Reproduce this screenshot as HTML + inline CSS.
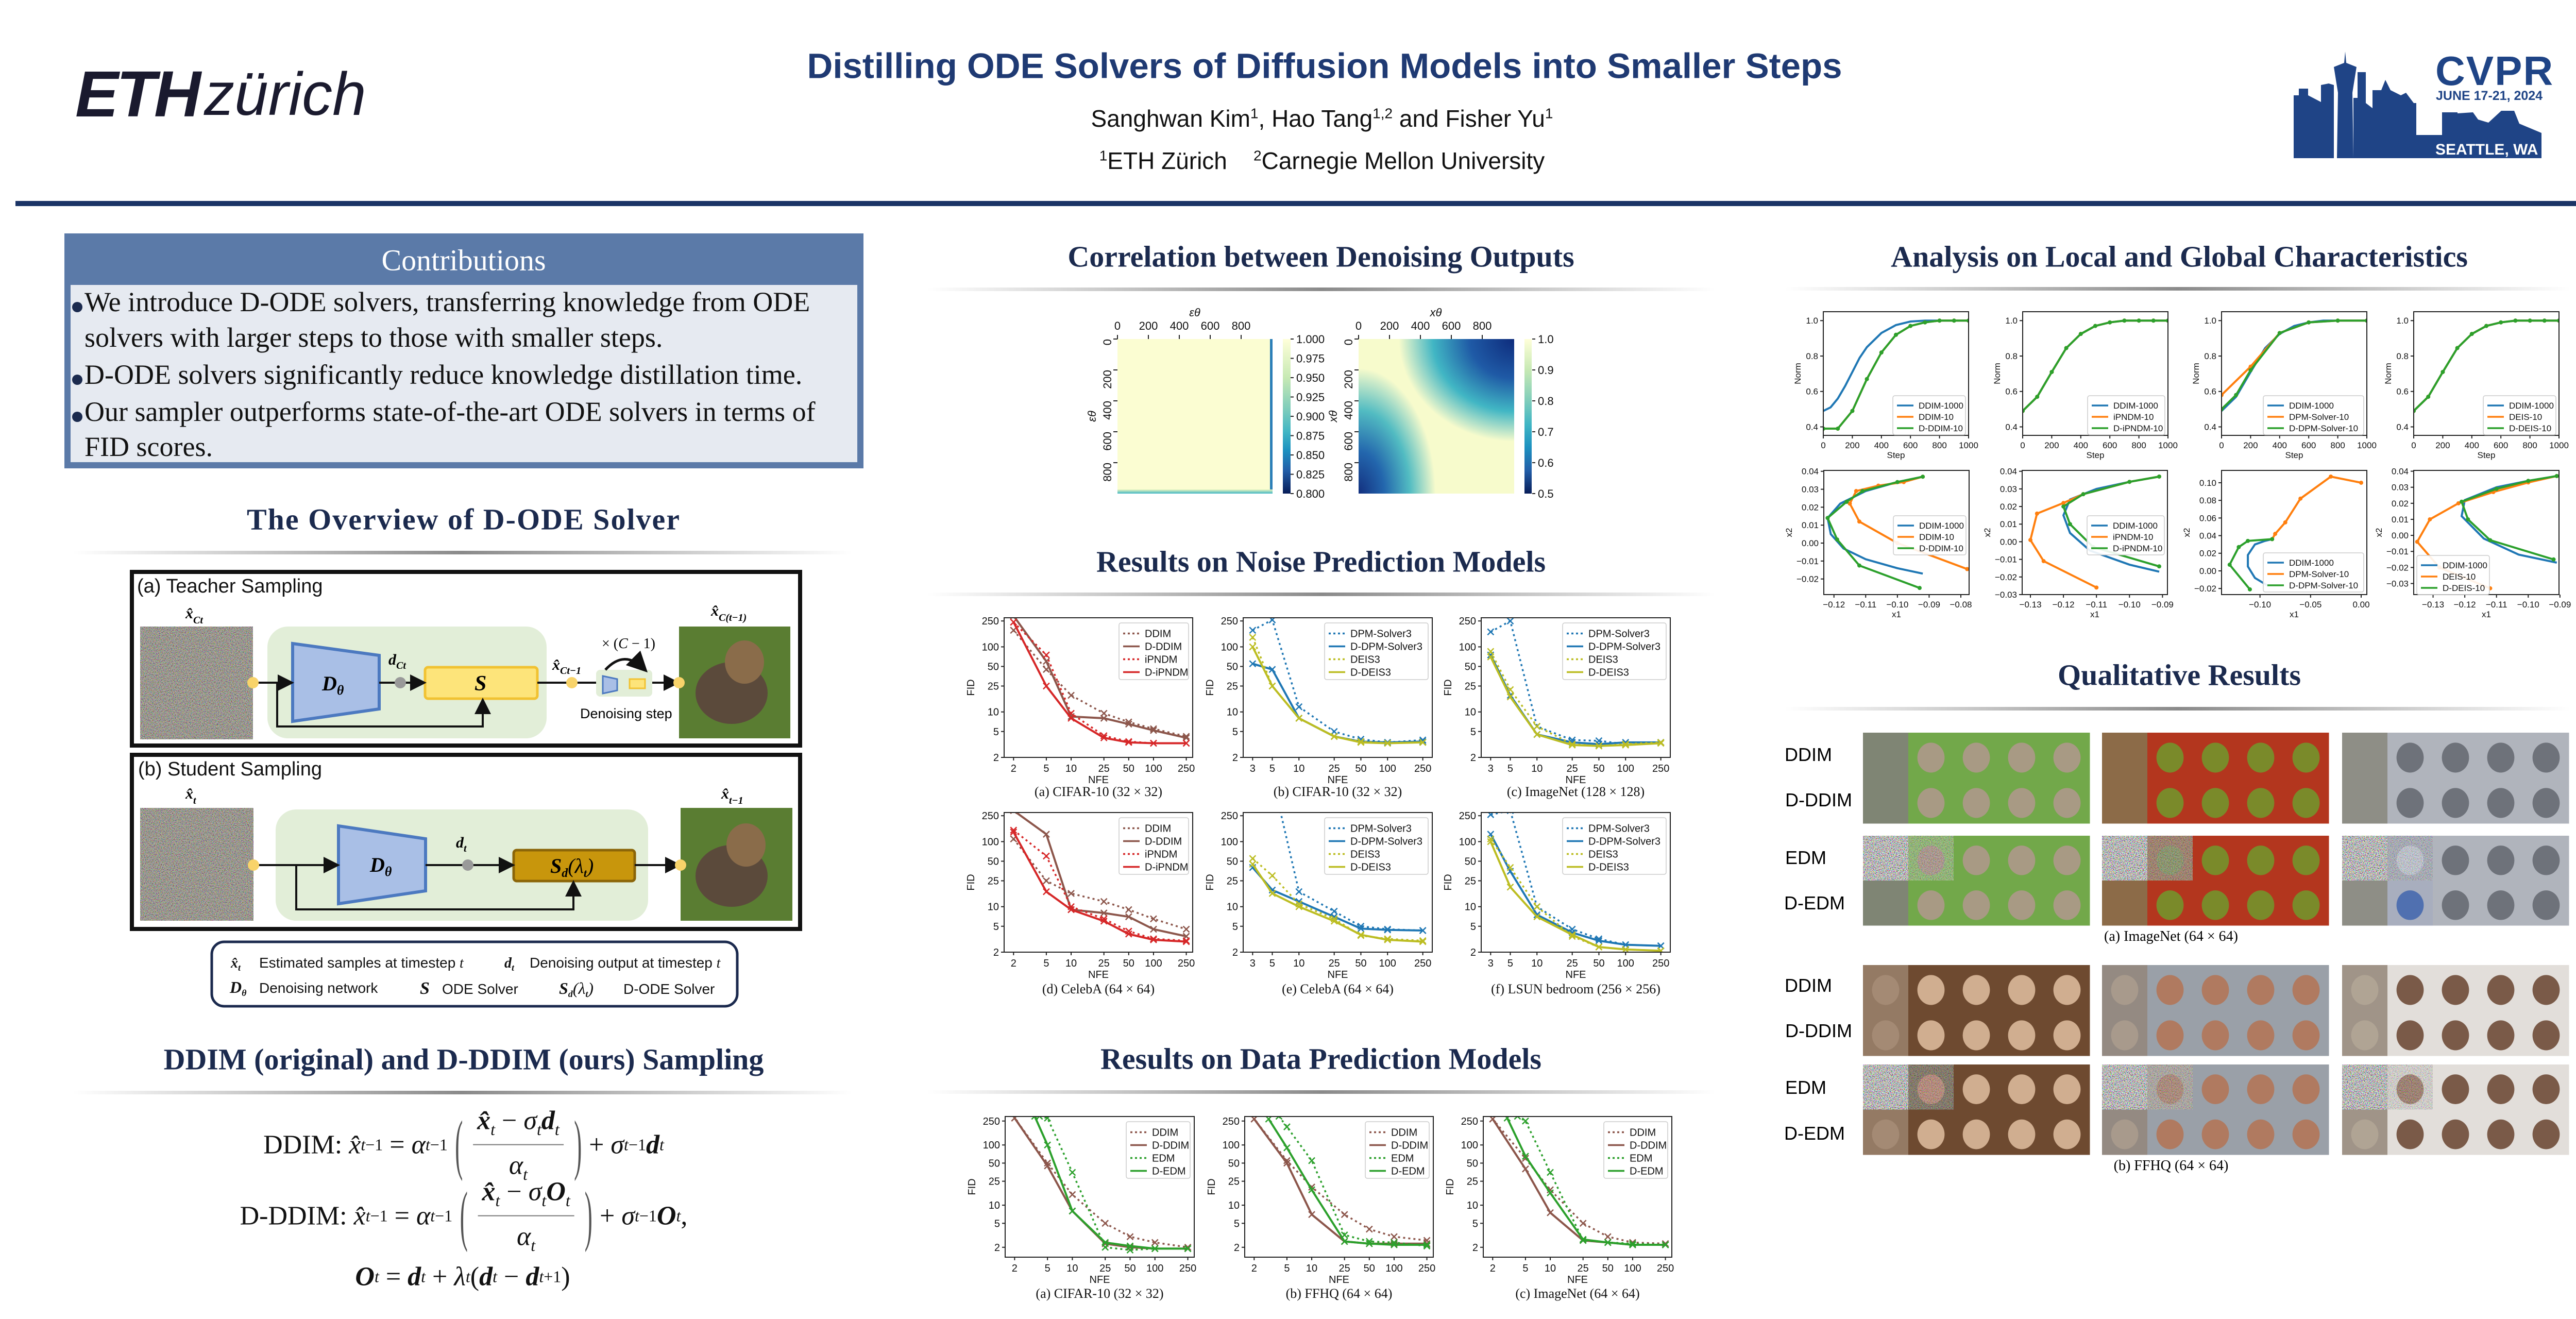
<!DOCTYPE html>
<html><head><meta charset="utf-8">
<style>
*{margin:0;padding:0;box-sizing:border-box}
body{width:5120px;height:2560px;background:#fff;position:relative;overflow:hidden;font-family:"Liberation Sans",sans-serif}
.a{position:absolute;white-space:nowrap}
.c{transform:translate(-50%,-50%)}
.h{font-family:"Liberation Serif",serif;font-weight:bold;font-size:58px;color:#1b2a4e}
.ln{position:absolute;height:7px;background:linear-gradient(to right,rgba(150,150,150,0),#8a8a8a 50%,rgba(150,150,150,0))}
.ser{font-family:"Liberation Serif",serif}
.cb{font-family:"Liberation Serif",serif;font-size:54px;color:#111;position:absolute;white-space:nowrap}
.bul{display:inline-block;width:20px;height:20px;border-radius:50%;background:#1b2a4e;margin-right:4px;vertical-align:-2px}
.eq{font-family:"Liberation Serif",serif;font-size:52px;color:#111;position:absolute;white-space:nowrap;display:flex;align-items:center;transform:translate(-50%,-50%)}
.eq i{font-style:italic}
.fr{display:inline-flex;flex-direction:column;align-items:center;margin:0 6px}
.fr .n{padding:0 8px 10px;border-bottom:2px solid #777}
.fr .d{padding-top:10px}
.par{font-size:130px;font-weight:100;color:#555;line-height:1;transform:scaleX(.35)}
sub{font-size:32px}
.lg{font-size:28px;color:#111}
</style></head><body>

<!-- header -->
<div class="a" style="left:146px;top:120px;font-size:126px;line-height:1;font-weight:bold;font-style:italic;color:#1a1a2e;letter-spacing:-4px">ETH</div>
<div class="a" style="left:396px;top:124px;font-size:118px;line-height:1;font-style:italic;color:#1a1a2e">zürich</div>
<div class="a c" style="left:2571px;top:128px;font-size:69px;font-weight:bold;color:#1f3a73">Distilling ODE Solvers of Diffusion Models into Smaller Steps</div>
<div class="a c" style="left:2566px;top:230px;font-size:46px;color:#111">Sanghwan Kim<sup style="font-size:28px">1</sup>, Hao Tang<sup style="font-size:28px">1,2</sup> and Fisher Yu<sup style="font-size:28px">1</sup></div>
<div class="a c" style="left:2566px;top:312px;font-size:46px;color:#111"><sup style="font-size:28px">1</sup>ETH Zürich &nbsp;&nbsp; <sup style="font-size:28px">2</sup>Carnegie Mellon University</div>
<div class="a" style="left:4727px;top:98px;font-size:80px;font-weight:bold;color:#1f4486;line-height:1;letter-spacing:2px">CVPR</div>
<div class="a" style="left:4728px;top:174px;font-size:25px;font-weight:bold;color:#1f4486;line-height:1">JUNE 17-21, 2024</div>
<div style="position:absolute;left:30px;top:390px;width:5080px;height:10px;background:#1b3466"></div>

<!-- left column -->
<div style="position:absolute;left:125px;top:453px;width:1551px;height:456px;background:#5b7aa8"></div>
<div style="position:absolute;left:137px;top:553px;width:1527px;height:344px;background:#e6eaf1"></div>
<div class="a c ser" style="left:900px;top:505px;font-size:58px;color:#fff">Contributions</div>
<div class="cb" style="left:140px;top:555px"><span class="bul"></span>We introduce D-ODE solvers, transferring knowledge from ODE</div>
<div class="cb" style="left:164px;top:624px">solvers with larger steps to those with smaller steps.</div>
<div class="cb" style="left:140px;top:696px"><span class="bul"></span>D-ODE solvers significantly reduce knowledge distillation time.</div>
<div class="cb" style="left:140px;top:768px"><span class="bul"></span>Our sampler outperforms state-of-the-art ODE solvers in terms of</div>
<div class="cb" style="left:164px;top:836px">FID scores.</div>

<div class="a c h" style="left:900px;top:1008px;letter-spacing:2px">The Overview of D-ODE Solver</div>
<div class="ln" style="left:141px;top:1069px;width:1513px"></div>

<div class="a c h" style="left:900px;top:2056px">DDIM (original) and D-DDIM (ours) Sampling</div>
<div class="ln" style="left:141px;top:2117px;width:1513px"></div>

<div class="eq" style="left:900px;top:2222px">DDIM:&nbsp; <i>x̂</i><sub><i>t</i>−1</sub>&nbsp;=&nbsp;<i>α</i><sub><i>t</i>−1</sub><span class="par">(</span><span class="fr"><span class="n"><b><i>x̂</i></b><sub><i>t</i></sub> − <i>σ</i><sub><i>t</i></sub><b><i>d</i></b><sub><i>t</i></sub></span><span class="d"><i>α</i><sub><i>t</i></sub></span></span><span class="par">)</span>+&nbsp;<i>σ</i><sub><i>t</i>−1</sub><b><i>d</i></b><sub><i>t</i></sub></div>
<div class="eq" style="left:900px;top:2360px">D-DDIM:&nbsp; <i>x̂</i><sub><i>t</i>−1</sub>&nbsp;=&nbsp;<i>α</i><sub><i>t</i>−1</sub><span class="par">(</span><span class="fr"><span class="n"><b><i>x̂</i></b><sub><i>t</i></sub> − <i>σ</i><sub><i>t</i></sub><b><i>O</i></b><sub><i>t</i></sub></span><span class="d"><i>α</i><sub><i>t</i></sub></span></span><span class="par">)</span>+&nbsp;<i>σ</i><sub><i>t</i>−1</sub><b><i>O</i></b><sub><i>t</i></sub>,</div>
<div class="eq" style="left:898px;top:2478px"><b><i>O</i></b><sub><i>t</i></sub>&nbsp;=&nbsp;<b><i>d</i></b><sub><i>t</i></sub>&nbsp;+&nbsp;<i>λ</i><sub><i>t</i></sub>(<b><i>d</i></b><sub><i>t</i></sub>&nbsp;−&nbsp;<b><i>d</i></b><sub><i>t</i>+1</sub>)</div>

<!-- middle column -->
<div class="a c h" style="left:2564px;top:498px">Correlation between Denoising Outputs</div>
<div class="ln" style="left:1800px;top:558px;width:1530px"></div>
<div class="a c h" style="left:2564px;top:1090px">Results on Noise Prediction Models</div>
<div class="ln" style="left:1800px;top:1150px;width:1530px"></div>
<div class="a c h" style="left:2564px;top:2055px">Results on Data Prediction Models</div>
<div class="ln" style="left:1800px;top:2116px;width:1530px"></div>

<!-- heatmaps -->
<div style="position:absolute;left:2169px;top:658px;width:301px;height:300px;background:#fbfdd2"></div>
<div style="position:absolute;left:2465px;top:658px;width:5px;height:300px;background:#2c7fb8"></div>
<div style="position:absolute;left:2169px;top:950px;width:301px;height:8px;background:linear-gradient(#e8f5bf,#41b6c4)"></div>
<div style="position:absolute;left:2490px;top:658px;width:15px;height:300px;background:linear-gradient(#ffffd9,#c7e9b4 25%,#7fcdbb 45%,#41b6c4 60%,#1d91c0 72%,#225ea8 85%,#081d58)"></div>
<div style="position:absolute;left:2637px;top:658px;width:302px;height:300px;background:radial-gradient(ellipse 95% 85% at 100% 0%,#0e2c7c 0%,#1f5aa6 30%,#41b6c4 55%,rgba(237,248,190,0) 78%),radial-gradient(ellipse 55% 90% at 0% 100%,#13307f 0%,#2366ad 30%,#52bcc2 60%,rgba(237,248,190,0) 90%),#f7fbcc"></div>
<div style="position:absolute;left:2959px;top:658px;width:14px;height:300px;background:linear-gradient(#ffffd9,#c7e9b4 20%,#7fcdbb 40%,#41b6c4 55%,#1d91c0 70%,#225ea8 85%,#081d58)"></div>

<!-- right column -->
<div class="a c h" style="left:4230px;top:498px">Analysis on Local and Global Characteristics</div>
<div class="ln" style="left:3465px;top:557px;width:1524px"></div>
<div class="a c h" style="left:4230px;top:1310px">Qualitative Results</div>
<div class="ln" style="left:3465px;top:1372px;width:1524px"></div>

<div class="a c" style="left:3510px;top:1465px;font-size:36px">DDIM</div>
<div class="a c" style="left:3530px;top:1553px;font-size:36px">D-DDIM</div>
<div class="a c" style="left:3505px;top:1665px;font-size:36px">EDM</div>
<div class="a c" style="left:3522px;top:1753px;font-size:36px">D-EDM</div>
<div class="a c" style="left:3510px;top:1913px;font-size:36px">DDIM</div>
<div class="a c" style="left:3530px;top:2001px;font-size:36px">D-DDIM</div>
<div class="a c" style="left:3505px;top:2111px;font-size:36px">EDM</div>
<div class="a c" style="left:3522px;top:2200px;font-size:36px">D-EDM</div>
<div class="a c ser" style="left:4214px;top:1818px;font-size:28px">(a) ImageNet (64 × 64)</div>
<div class="a c ser" style="left:4214px;top:2263px;font-size:28px">(b) FFHQ (64 × 64)</div>

<svg id="sv" width="5120" height="2560" style="position:absolute;left:0;top:0" xmlns="http://www.w3.org/2000/svg">
<defs>
<filter id="nz" x="0" y="0" width="100%" height="100%"><feTurbulence type="fractalNoise" baseFrequency="0.55" numOctaves="2" seed="4"/><feColorMatrix type="matrix" values="2 0 0 0 -0.5  0 2 0 0 -0.5  0 0 2 0 -0.5  0 0 0 0 1"/></filter>
<marker id="ar" markerWidth="8" markerHeight="8" refX="6" refY="4" orient="auto"><path d="M0,0 L8,4 L0,8 z" fill="#111"/></marker>
</defs>
<!-- CVPR skyline -->
<g fill="#1f4486">
<path d="M4452,307 L4452,185 L4462,185 L4462,172 L4480,172 L4480,185 L4505,198 L4505,165 L4520,162 L4530,165 L4530,307 Z"/>
<path d="M4536,307 L4538,180 L4530,130 L4550,122 L4552,100 L4554,122 L4574,130 L4566,180 L4568,307 Z"/>
<path d="M4568,307 L4568,190 L4576,190 L4576,140 L4592,140 L4592,200 L4605,210 L4605,175 L4622,175 L4630,155 L4640,175 L4660,185 L4670,180 L4685,200 L4690,200 L4690,307 Z"/>
<path d="M4690,307 L4690,262 L4740,262 L4740,218 L4770,218 L4770,220 L4800,218 L4810,232 L4830,238 L4855,215 L4880,215 L4890,240 L4933,258 L4933,307 Z"/>
</g>
<text x="4727" y="300" font-family="Liberation Sans" font-weight="bold" font-size="30" fill="#fff">SEATTLE, WA</text>

<!-- teacher diagram -->
<rect x="256" y="1110" width="1297" height="337" fill="#fff" stroke="#111" stroke-width="8"/>
<text x="266" y="1150" font-family="Liberation Sans" font-size="38" fill="#111">(a) Teacher Sampling</text>
<rect x="272" y="1216" width="219" height="219" fill="#77705f"/>
<rect x="272" y="1216" width="219" height="219" filter="url(#nz)" opacity="0.55"/>
<rect x="519" y="1216" width="542" height="217" rx="40" fill="#e2eed8"/>
<polygon points="568,1249 736,1272 736,1376 568,1400" fill="#a9bfe6" stroke="#4c79c0" stroke-width="6"/>
<text x="625" y="1340" font-family="Liberation Serif" font-style="italic" font-weight="bold" font-size="40">D<tspan font-size="26" dy="8">θ</tspan></text>
<rect x="825" y="1295" width="218" height="61" rx="6" fill="#fde47a" stroke="#f1c232" stroke-width="5"/>
<text x="921" y="1340" font-family="Liberation Serif" font-style="italic" font-weight="bold" font-size="42">S</text>
<path d="M491,1325 H563" stroke="#111" stroke-width="4" marker-end="url(#ar)"/>
<path d="M538,1325 V1410 H937 V1362" stroke="#111" stroke-width="4" fill="none" marker-end="url(#ar)"/>
<path d="M736,1325 H820" stroke="#111" stroke-width="4" marker-end="url(#ar)"/>
<circle cx="777" cy="1325" r="11" fill="#999"/>
<circle cx="491" cy="1325" r="11" fill="#f8d36a"/>
<path d="M1043,1325 H1157" stroke="#111" stroke-width="4"/>
<circle cx="1110" cy="1325" r="11" fill="#f8d36a"/>
<rect x="1157" y="1300" width="109" height="52" rx="8" fill="#e2eed8"/>
<polygon points="1170,1312 1198,1318 1198,1340 1170,1346" fill="#a9bfe6" stroke="#4c79c0" stroke-width="3"/>
<rect x="1222" y="1318" width="30" height="18" fill="#fde47a" stroke="#f1c232" stroke-width="3"/>
<path d="M1175,1300 Q1212,1260 1250,1298" stroke="#111" stroke-width="5" fill="none" marker-end="url(#ar)"/>
<text x="1168" y="1258" font-family="Liberation Serif" font-size="28">× (<tspan font-style="italic">C</tspan> − 1)</text>
<text x="1126" y="1394" font-family="Liberation Sans" font-size="27">Denoising step</text>
<path d="M1266,1325 H1312" stroke="#111" stroke-width="4" marker-end="url(#ar)"/>
<rect x="1318" y="1216" width="216" height="217" fill="#5a7d32"/>
<ellipse cx="1420" cy="1345" rx="70" ry="60" fill="#5b4a3b"/>
<ellipse cx="1445" cy="1285" rx="38" ry="42" fill="#8a6c4a"/>
<circle cx="1318" cy="1325" r="11" fill="#f8d36a"/>
<text x="360" y="1200" font-family="Liberation Serif" font-style="italic" font-weight="bold" font-size="30">x̂<tspan font-size="20" dy="10">Ct</tspan></text>
<text x="754" y="1290" font-family="Liberation Serif" font-style="italic" font-weight="bold" font-size="30">d<tspan font-size="20" dy="8">Ct</tspan></text>
<text x="1072" y="1300" font-family="Liberation Serif" font-style="italic" font-weight="bold" font-size="30">x̂<tspan font-size="20" dy="8">Ct−1</tspan></text>
<text x="1380" y="1195" font-family="Liberation Serif" font-style="italic" font-weight="bold" font-size="30">x̂<tspan font-size="20" dy="10">C(t−1)</tspan></text>

<!-- student diagram -->
<rect x="256" y="1465" width="1297" height="338" fill="#fff" stroke="#111" stroke-width="8"/>
<text x="268" y="1505" font-family="Liberation Sans" font-size="38" fill="#111">(b) Student Sampling</text>
<rect x="272" y="1568" width="220" height="219" fill="#77705f"/>
<rect x="272" y="1568" width="220" height="219" filter="url(#nz)" opacity="0.55"/>
<rect x="535" y="1571" width="723" height="216" rx="40" fill="#e2eed8"/>
<polygon points="657,1603 826,1628 826,1729 657,1754" fill="#a9bfe6" stroke="#4c79c0" stroke-width="6"/>
<text x="718" y="1692" font-family="Liberation Serif" font-style="italic" font-weight="bold" font-size="40">D<tspan font-size="26" dy="8">θ</tspan></text>
<rect x="997" y="1650" width="235" height="60" rx="6" fill="#c8960c" stroke="#8b6508" stroke-width="5"/>
<text x="1068" y="1694" font-family="Liberation Serif" font-style="italic" font-weight="bold" font-size="40">S<tspan font-size="24" dy="8">d</tspan><tspan dy="-8" font-weight="normal">(λ</tspan><tspan font-size="22" dy="8">t</tspan><tspan dy="-8" font-weight="normal">)</tspan></text>
<path d="M492,1679 H652" stroke="#111" stroke-width="4" marker-end="url(#ar)"/>
<path d="M575,1679 V1765 H1113 V1716" stroke="#111" stroke-width="4" fill="none" marker-end="url(#ar)"/>
<path d="M826,1679 H992" stroke="#111" stroke-width="4" marker-end="url(#ar)"/>
<circle cx="908" cy="1679" r="11" fill="#999"/>
<circle cx="492" cy="1679" r="11" fill="#f8d36a"/>
<path d="M1232,1679 H1315" stroke="#111" stroke-width="4" marker-end="url(#ar)"/>
<rect x="1321" y="1568" width="217" height="219" fill="#5a7d32"/>
<ellipse cx="1420" cy="1700" rx="70" ry="60" fill="#5b4a3b"/>
<ellipse cx="1448" cy="1640" rx="38" ry="42" fill="#8a6c4a"/>
<circle cx="1321" cy="1679" r="11" fill="#f8d36a"/>
<text x="360" y="1550" font-family="Liberation Serif" font-style="italic" font-weight="bold" font-size="30">x̂<tspan font-size="20" dy="10">t</tspan></text>
<text x="885" y="1645" font-family="Liberation Serif" font-style="italic" font-weight="bold" font-size="30">d<tspan font-size="20" dy="8">t</tspan></text>
<text x="1400" y="1550" font-family="Liberation Serif" font-style="italic" font-weight="bold" font-size="30">x̂<tspan font-size="20" dy="10">t−1</tspan></text>

<!-- legend box -->
<rect x="411" y="1828" width="1020" height="125" rx="24" fill="#fff" stroke="#1b2a4e" stroke-width="5"/>
<g font-family="Liberation Sans" font-size="28" fill="#111">
<text x="448" y="1878" font-family="Liberation Serif" font-style="italic" font-weight="bold">x̂<tspan font-size="18" dy="6">t</tspan></text>
<text x="503" y="1878">Estimated samples at timestep <tspan font-family="Liberation Serif" font-style="italic">t</tspan></text>
<text x="979" y="1878" font-family="Liberation Serif" font-style="italic" font-weight="bold">d<tspan font-size="18" dy="6">t</tspan></text>
<text x="1028" y="1878">Denoising output at timestep <tspan font-family="Liberation Serif" font-style="italic">t</tspan></text>
<text x="446" y="1927" font-family="Liberation Serif" font-style="italic" font-weight="bold" font-size="32">D<tspan font-size="18" dy="6">θ</tspan></text>
<text x="503" y="1927">Denoising network</text>
<text x="815" y="1929" font-family="Liberation Serif" font-style="italic" font-weight="bold" font-size="34">S</text>
<text x="858" y="1929">ODE Solver</text>
<text x="1085" y="1929" font-family="Liberation Serif" font-style="italic" font-weight="bold" font-size="32">S<tspan font-size="18" dy="6">d</tspan><tspan dy="-6" font-weight="normal">(λ</tspan><tspan font-size="18" dy="6">t</tspan><tspan dy="-6" font-weight="normal">)</tspan></text>
<text x="1210" y="1929">D-ODE Solver</text>
</g>
<g id="dyn"></g>
</svg>

<script>
var out='';
function L(v){return Math.log(v);}
function fyF(v){return (L(280)-L(v))/L(140);}
function fy3(v){return (L(297)-L(v))/(L(297)-L(1.37));}
function fx2(n){return 0.05+(L(n)-L(2))/(L(250)-L(2))*0.916;}
function fx3(n){return 0.05+(L(n)-L(3))/(L(250)-L(3))*0.90;}
var BR='#8c564b',RD='#d62728',BL='#1f77b4',OL='#bcbd22',GR='#2ca02c',OR='#ff7f0e';
function chart(c){
 var w=c.w,h=c.h,s='<g transform="translate('+c.x+','+c.y+')">';
 s+='<svg x="0" y="0" width="'+w+'" height="'+h+'" overflow="hidden">';
 c.series.forEach(function(se){
  var pts=se.p.map(function(p){return [c.fx(p[0])*w,c.fy(p[1])*h];});
  s+='<polyline points="'+pts.map(function(q){return q[0].toFixed(1)+','+q[1].toFixed(1);}).join(' ')+'" fill="none" stroke="'+se.c+'" stroke-width="'+(se.d?3.5:4)+'"'+(se.d?' stroke-dasharray="4 6"':'')+'/>';
  pts.forEach(function(q){
   if(c.mk=='x'){s+='<path d="M'+(q[0]-6)+','+(q[1]-6)+'l12,12M'+(q[0]-6)+','+(q[1]+6)+'l12,-12" stroke="'+se.c+'" stroke-width="2.5"/>';}
   else if(c.mk=='o'&&se.m){s+='<circle cx="'+q[0]+'" cy="'+q[1]+'" r="4" fill="'+se.c+'"/>';}
  });
 });
 s+='</svg><rect width="'+w+'" height="'+h+'" fill="none" stroke="#222" stroke-width="2"/>';
 var fs=c.fs||20;
 c.xt.forEach(function(t){var px=c.fx(t[0])*w;s+='<line x1="'+px+'" x2="'+px+'" y1="'+h+'" y2="'+(h+6)+'" stroke="#222" stroke-width="2"/><text x="'+px+'" y="'+(h+fs+8)+'" text-anchor="middle" font-size="'+fs+'">'+t[1]+'</text>';});
 c.yt.forEach(function(t){var py=c.fy(t[0])*h;s+='<line x1="-6" x2="0" y1="'+py+'" y2="'+py+'" stroke="#222" stroke-width="2"/><text x="-10" y="'+(py+fs*0.35)+'" text-anchor="end" font-size="'+fs+'">'+t[1]+'</text>';});
 s+='<text x="'+(w/2)+'" y="'+(h+fs*2+10)+'" text-anchor="middle" font-size="'+fs+'">'+c.xl+'</text>';
 s+='<text transform="translate('+(c.ylx||-50)+','+(h/2)+') rotate(-90)" text-anchor="middle" font-size="'+fs+'">'+c.yl+'</text>';
 if(c.leg){var g=c.leg,lw=g.w,rh=g.rh,lx=g.x,ly=g.y;
  s+='<rect x="'+lx+'" y="'+ly+'" width="'+lw+'" height="'+(rh*c.series.length+10)+'" rx="4" fill="#fff" fill-opacity="0.9" stroke="#ccc" stroke-width="1.5"/>';
  c.series.forEach(function(se,i){var yy=ly+8+rh*i+rh/2;
   s+='<line x1="'+(lx+8)+'" x2="'+(lx+40)+'" y1="'+yy+'" y2="'+yy+'" stroke="'+se.c+'" stroke-width="3.5"'+(se.d?' stroke-dasharray="4 5"':'')+'/>';
   s+='<text x="'+(lx+50)+'" y="'+(yy+g.fs*0.36)+'" font-size="'+g.fs+'">'+se.n+'</text>';});
 }
 if(c.cap){s+='<text x="'+(w/2)+'" y="'+c.cap[1]+'" text-anchor="middle" font-family="Liberation Serif" font-size="26">'+c.cap[0]+'</text>';}
 s+='</g>';out+=s;
}
var YT=[[250,'250'],[100,'100'],[50,'50'],[25,'25'],[10,'10'],[5,'5'],[2,'2']];
var XT2=[[2,'2'],[5,'5'],[10,'10'],[25,'25'],[50,'50'],[100,'100'],[250,'250']];
var XT3=[[3,'3'],[5,'5'],[10,'10'],[25,'25'],[50,'50'],[100,'100'],[250,'250']];
function fid(x,y,w,h,fx,fy,xt,ser,cap,capy){
 var mx=0;ser.forEach(function(s){mx=Math.max(mx,s.n.length);});
 var lw=58+mx*11;
 chart({x:x,y:y,w:w,h:h,fx:fx,fy:fy,xt:xt,yt:YT,xl:'NFE',yl:'FID',ylx:-58,mk:'x',series:ser,
  leg:{x:w-lw-8,y:10,w:lw,rh:25,fs:20},cap:[cap,capy]});
}
function S(n,c,d,p){return {n:n,c:c,d:d,p:p};}
fid(1949,1199,366,271,fx2,fyF,XT2,[
 S('DDIM',BR,1,[[2,180],[5,45],[10,18],[25,9.5],[50,7],[100,5.5],[250,4.2]]),
 S('D-DDIM',BR,0,[[2,300],[5,60],[10,8.5],[25,8],[50,6.5],[100,5.2],[250,4]]),
 S('iPNDM',RD,1,[[2,240],[5,75],[10,9.5],[25,4.3],[50,3.5],[100,3.3],[250,3.3]]),
 S('D-iPNDM',RD,0,[[2,240],[5,25],[10,8],[25,4],[50,3.4],[100,3.3],[250,3.3]])],'(a) CIFAR-10 (32 × 32)',346);
fid(2413,1199,367,271,fx3,fyF,XT3,[
 S('DPM-Solver3',BL,1,[[3,180],[5,260],[10,12],[25,5],[50,3.8],[100,3.4],[250,3.7]]),
 S('D-DPM-Solver3',BL,0,[[3,55],[5,45],[10,8],[25,4.2],[50,3.5],[100,3.4],[250,3.5]]),
 S('DEIS3',OL,1,[[3,140],[5,25],[10,8],[25,4.2],[50,3.5],[100,3.3],[250,3.4]]),
 S('D-DEIS3',OL,0,[[3,100],[5,25],[10,8],[25,4.2],[50,3.4],[100,3.3],[250,3.4]])],'(b) CIFAR-10 (32 × 32)',346);
fid(2875,1199,367,271,fx3,fyF,XT3,[
 S('DPM-Solver3',BL,1,[[3,170],[5,250],[10,6],[25,3.7],[50,3.6],[100,3.2],[250,3.4]]),
 S('D-DPM-Solver3',BL,0,[[3,75],[5,18],[10,4.5],[25,3.4],[50,3.2],[100,3.4],[250,3.4]]),
 S('DEIS3',OL,1,[[3,85],[5,22],[10,6],[25,3.2],[50,3],[100,3.2],[250,3.4]]),
 S('D-DEIS3',OL,0,[[3,70],[5,17],[10,4.5],[25,3.1],[50,3],[100,3.1],[250,3.3]])],'(c) ImageNet (128 × 128)',346);
fid(1949,1577,366,271,fx2,fyF,XT2,[
 S('DDIM',BR,1,[[2,110],[5,25],[10,16],[25,12],[50,9],[100,6.5],[250,4.5]]),
 S('D-DDIM',BR,0,[[2,300],[5,130],[10,9],[25,8],[50,7],[100,4.5],[250,3.5]]),
 S('iPNDM',RD,1,[[2,150],[5,60],[10,10],[25,6.5],[50,4.2],[100,3.2],[250,3]]),
 S('D-iPNDM',RD,0,[[2,140],[5,17],[10,9],[25,6],[50,3.8],[100,3.1],[250,2.9]])],'(d) CelebA (64 × 64)',351);
fid(2413,1577,367,271,fx3,fyF,XT3,[
 S('DPM-Solver3',BL,1,[[3,3000],[5,1000],[10,17],[25,8.5],[50,5],[100,4.5],[250,4.3]]),
 S('D-DPM-Solver3',BL,0,[[3,40],[5,18],[10,12],[25,7],[50,4.6],[100,4.4],[250,4.3]]),
 S('DEIS3',OL,1,[[3,55],[5,30],[10,11],[25,6.5],[50,3.6],[100,3.2],[250,3.0]]),
 S('D-DEIS3',OL,0,[[3,45],[5,16],[10,10],[25,6],[50,3.7],[100,3.1],[250,2.9]])],'(e) CelebA (64 × 64)',351);
fid(2875,1577,367,271,fx3,fyF,XT3,[
 S('DPM-Solver3',BL,1,[[3,260],[5,300],[10,10],[25,4.5],[50,3.2],[100,2.6],[250,2.5]]),
 S('D-DPM-Solver3',BL,0,[[3,130],[5,35],[10,7.5],[25,4],[50,3],[100,2.6],[250,2.5]]),
 S('DEIS3',OL,1,[[3,110],[5,40],[10,10],[25,3.5],[50,2.4],[100,2.2],[250,2.1]]),
 S('D-DEIS3',OL,0,[[3,100],[5,20],[10,7],[25,3.7],[50,2.4],[100,2.2],[250,2.1]])],'(f) LSUN bedroom (256 × 256)',351);
fid(1951,2167,367,273,fx2,fy3,XT2,[
 S('DDIM',BR,1,[[2,280],[5,50],[10,15],[25,5],[50,3],[100,2.4],[250,2]]),
 S('D-DDIM',BR,0,[[2,280],[5,45],[10,8],[25,2.3],[50,2],[100,1.9],[250,1.9]]),
 S('EDM',GR,1,[[4,300],[5,280],[10,35],[25,2],[50,1.8],[100,1.9],[250,1.9]]),
 S('D-EDM',GR,0,[[3.5,300],[5,100],[10,8],[25,2.4],[50,2.1],[100,1.9],[250,1.9]])],'(a) CIFAR-10 (32 × 32)',352);
fid(2416,2167,366,273,fx2,fy3,XT2,[
 S('DDIM',BR,1,[[2,270],[5,55],[10,20],[25,7],[50,4],[100,3],[250,2.6]]),
 S('D-DDIM',BR,0,[[2,270],[5,50],[10,7],[25,2.5],[50,2.3],[100,2.3],[250,2.3]]),
 S('EDM',GR,1,[[4,300],[5,200],[10,55],[25,3.2],[50,2.5],[100,2.4],[250,2.1]]),
 S('D-EDM',GR,0,[[3,270],[5,90],[10,18],[25,2.5],[50,2.3],[100,2.2],[250,2.2]])],'(b) FFHQ (64 × 64)',352);
fid(2879,2167,366,273,fx2,fy3,XT2,[
 S('DDIM',BR,1,[[2,270],[5,60],[10,18],[25,5],[50,3],[100,2.4],[250,2.3]]),
 S('D-DDIM',BR,0,[[2,270],[5,40],[10,7.5],[25,2.6],[50,2.4],[100,2.2],[250,2.2]]),
 S('EDM',GR,1,[[4,300],[5,250],[10,35],[25,2.6],[50,2.4],[100,2.3],[250,2.2]]),
 S('D-EDM',GR,0,[[3,280],[5,65],[10,16],[25,2.7],[50,2.4],[100,2.2],[250,2.2]])],'(c) ImageNet (64 × 64)',352);

function fyN(v){return (1.0503-v)*1.432;}
function fxN(s){return s/1000;}
var XN=[[0,'0'],[200,'200'],[400,'400'],[600,'600'],[800,'800'],[1000,'1000']];
var YN=[[0.4,'0.4'],[0.6,'0.6'],[0.8,'0.8'],[1.0,'1.0']];
var SIG=[[0,.49],[100,.57],[200,.71],[300,.845],[400,.925],[500,.97],[600,.99],[700,1],[800,1],[900,1],[1000,1]];
var SIGb=[[0,.49],[50,.51],[100,.56],[150,.63],[200,.71],[250,.79],[300,.85],[400,.93],[500,.975],[600,.995],[700,1],[1000,1]];
var LATE=[[0,.39],[100,.39],[200,.49],[300,.67],[400,.82],[500,.92],[600,.97],[700,.99],[800,1],[900,1],[1000,1]];
function an(x,names,b,o,g){
 var lw=60+names[2].length*9;
 chart({x:x,y:605,w:282,h:240,fx:fxN,fy:fyN,xt:XN,yt:YN,xl:'Step',yl:'Norm',ylx:-44,mk:'o',fs:17,
  series:[{n:names[0],c:BL,p:b},{n:names[1],c:OR,p:o,m:1},{n:names[2],c:GR,p:g,m:1}],
  leg:{x:282-lw-6,y:163,w:lw,rh:22,fs:17}});
}
an(3539,['DDIM-1000','DDIM-10','D-DDIM-10'],SIGb,LATE,LATE);
an(3926,['DDIM-1000','iPNDM-10','D-iPNDM-10'],SIG,SIG,SIG);
an(4312,['DDIM-1000','DPM-Solver-10','D-DPM-Solver-10'],SIG,[[0,.58],[200,.74],[400,.93],[600,.99],[800,1],[1000,1]],[[0,.5],[100,.58],[200,.72],[400,.93],[600,.99],[800,1],[1000,1]]);
an(4685,['DDIM-1000','DEIS-10','D-DEIS-10'],SIG,SIG,SIG);
function lin(a,b){return function(v){return (v-a)/(b-a);};}
function tr(x,xr,yr,xt,yt,names,b,o,g,lg){
 var lw=60+names[2].length*9;
 var lx=lg=='l'?6:282-lw-6, ly=lg=='b'?160:(lg=='l'?165:88);
 chart({x:x,y:913,w:282,h:241,fx:lin(xr[0],xr[1]),fy:lin(yr[0],yr[1]),xt:xt,yt:yt,xl:'x1',yl:'x2',ylx:-62,mk:'o',fs:17,
  series:[{n:names[0],c:BL,p:b},{n:names[1],c:OR,p:o,m:1},{n:names[2],c:GR,p:g,m:1}],
  leg:{x:lx,y:ly,w:lw,rh:22,fs:17}});
}
var Y4=[[0.04,'0.04'],[0.03,'0.03'],[0.02,'0.02'],[0.01,'0.01'],[0,'0.00'],[-0.01,'−0.01'],[-0.02,'−0.02']];
tr(3540,[-0.1232,-0.0774],[0.0405,-0.0287],[[-0.12,'−0.12'],[-0.11,'−0.11'],[-0.1,'−0.10'],[-0.09,'−0.09'],[-0.08,'−0.08']],Y4,
 ['DDIM-1000','DDIM-10','D-DDIM-10'],
 [[-0.092,0.037],[-0.1,0.034],[-0.11,0.029],[-0.118,0.022],[-0.122,0.014],[-0.121,0.005],[-0.117,-0.003],[-0.11,-0.009],[-0.1,-0.014],[-0.092,-0.017]],
 [[-0.092,0.037],[-0.098,0.034],[-0.106,0.032],[-0.113,0.029],[-0.115,0.022],[-0.112,0.012],[-0.1,0.0],[-0.078,-0.0145]],
 [[-0.092,0.037],[-0.1,0.034],[-0.111,0.029],[-0.116,0.023],[-0.122,0.014],[-0.119,0.002],[-0.112,-0.0125],[-0.093,-0.025]],'m');
tr(3925,[-0.1325,-0.0885],[0.0405,-0.03],[[-0.13,'−0.13'],[-0.12,'−0.12'],[-0.11,'−0.11'],[-0.1,'−0.10'],[-0.09,'−0.09']],Y4.concat([[-0.03,'−0.03']]),
 ['DDIM-1000','iPNDM-10','D-iPNDM-10'],
 [[-0.091,0.037],[-0.1,0.034],[-0.11,0.03],[-0.118,0.024],[-0.12,0.015],[-0.118,0.005],[-0.112,-0.005],[-0.1,-0.013],[-0.091,-0.017]],
 [[-0.091,0.037],[-0.1,0.034],[-0.114,0.027],[-0.12,0.022],[-0.128,0.016],[-0.13,0.001],[-0.126,-0.011],[-0.11,-0.026]],
 [[-0.091,0.037],[-0.1,0.034],[-0.114,0.027],[-0.12,0.02],[-0.118,0.01],[-0.111,-0.003],[-0.091,-0.014]],'m');
tr(4312,[-0.138,0.0056],[0.114,-0.0269],[[-0.1,'−0.10'],[-0.05,'−0.05'],[0,'0.00']],[[0.1,'0.10'],[0.08,'0.08'],[0.06,'0.06'],[0.04,'0.04'],[0.02,'0.02'],[0,'0.00'],[-0.02,'−0.02']],
 ['DDIM-1000','DPM-Solver-10','D-DPM-Solver-10'],
 [[-0.092,-0.017],[-0.105,-0.008],[-0.112,0.005],[-0.112,0.018],[-0.105,0.03],[-0.095,0.034],[-0.088,0.036]],
 [[-0.088,0.036],[-0.085,0.042],[-0.075,0.055],[-0.06,0.082],[-0.03,0.107],[0,0.1]],
 [[-0.11,-0.021],[-0.13,0.007],[-0.121,0.027],[-0.112,0.034],[-0.088,0.036]],'b');
tr(4685,[-0.1361,-0.0903],[0.0405,-0.0369],[[-0.13,'−0.13'],[-0.12,'−0.12'],[-0.11,'−0.11'],[-0.1,'−0.10'],[-0.09,'−0.09']],Y4.concat([[-0.03,'−0.03']]),
 ['DDIM-1000','DEIS-10','D-DEIS-10'],
 [[-0.091,0.037],[-0.1,0.034],[-0.11,0.03],[-0.12,0.022],[-0.121,0.012],[-0.114,-0.002],[-0.103,-0.012],[-0.091,-0.017]],
 [[-0.091,0.037],[-0.1,0.033],[-0.111,0.027],[-0.122,0.02],[-0.131,0.01],[-0.135,-0.004],[-0.128,-0.02],[-0.112,-0.033]],
 [[-0.091,0.037],[-0.1,0.034],[-0.11,0.029],[-0.121,0.021],[-0.119,0.01],[-0.112,-0.003],[-0.092,-0.015]],'l');

function hmt(x0,cbx,ticks,lab){
 var s='';
 [0,200,400,600,800].forEach(function(v,i){var px=x0+v*0.3;
  s+='<text x="'+px+'" y="640" text-anchor="middle" font-size="22">'+v+'</text><line x1="'+px+'" x2="'+px+'" y1="650" y2="658" stroke="#222" stroke-width="2"/>';
  var py=658+v*0.3;
  s+='<text transform="translate('+(x0-12)+','+py+') rotate(-90)" text-anchor="end" font-size="22">'+v+'</text><line x1="'+(x0-8)+'" x2="'+x0+'" y1="'+py+'" y2="'+py+'" stroke="#222" stroke-width="2"/>';});
 s+='<text x="'+(x0+150)+'" y="614" text-anchor="middle" font-size="22" font-style="italic">'+lab+'</text>';
 s+='<text transform="translate('+(x0-42)+',808) rotate(-90)" text-anchor="middle" font-size="22" font-style="italic">'+lab+'</text>';
 ticks.forEach(function(t,i){var py=658+300*i/(ticks.length-1);
  s+='<line x1="'+(cbx+15)+'" x2="'+(cbx+21)+'" y1="'+py+'" y2="'+py+'" stroke="#222" stroke-width="2"/><text x="'+(cbx+26)+'" y="'+(py+8)+'" font-size="22">'+t+'</text>';});
 out+=s;
}
hmt(2169,2490,['1.000','0.975','0.950','0.925','0.900','0.875','0.850','0.825','0.800'],'εθ');
hmt(2637,2959,['1.0','0.9','0.8','0.7','0.6','0.5'],'xθ');

function block(x,y,w,h,rows){
 var tw=w/5,th=h/2,s='';
 rows.forEach(function(r,ri){r.forEach(function(t,ci){
  var X=x+ci*tw,Y=y+ri*th;
  if(t=='N'){s+='<rect x="'+X+'" y="'+Y+'" width="'+tw+'" height="'+th+'" fill="#888"/><rect x="'+X+'" y="'+Y+'" width="'+tw+'" height="'+th+'" filter="url(#nz)"/>';return;}
  s+='<rect x="'+X+'" y="'+Y+'" width="'+(tw+0.5)+'" height="'+(th+0.5)+'" fill="'+t[0]+'"/>';
  if(t[1])s+='<ellipse cx="'+(X+tw/2)+'" cy="'+(Y+th*0.55)+'" rx="'+(tw*0.3)+'" ry="'+(th*0.33)+'" fill="'+t[1]+'"/>';
  if(t[2])s+='<rect x="'+X+'" y="'+Y+'" width="'+tw+'" height="'+th+'" filter="url(#nz)" opacity="0.45"/>';
 });});
 out+=s;
}
var bx=[3616,4080,4546],bw=440;
var g0=['#7f8574'],gg=['#72a84a','#a89a84'],f0=['#8c6b48'],ff=['#b3361e','#7a8a2a'],h0=['#8e8e86'],hh=['#b0b4bc','#6e727a'];
block(bx[0],1422,bw,176,[[g0,gg,gg,gg,gg],[g0,gg,gg,gg,gg]]);
block(bx[0],1622,bw,174,[['N',['#76b04a','#a08070',1],gg,gg,gg],[g0,gg,gg,gg,gg]]);
block(bx[1],1422,bw,176,[[f0,ff,ff,ff,ff],[f0,ff,ff,ff,ff]]);
block(bx[1],1622,bw,174,[['N',['#8a5a3a','#6a7a3a',1],ff,ff,ff],[f0,ff,ff,ff,ff]]);
block(bx[2],1422,bw,176,[[h0,hh,hh,hh,hh],[h0,hh,hh,hh,hh]]);
block(bx[2],1622,bw,174,[['N',['#9aa0b0','#c0c8d8',1],hh,hh,hh],[h0,['#a8aebe','#5070b0'],hh,hh,hh]]);
var w0=['#947a64','#a48a74'],ww=['#6e4a30','#d0ae90'],m0=['#948a82','#a89a8c'],mm=['#9aa0a8','#b07a60'],n0=['#a09488','#b0a494'],nn=['#e2deda','#7a5a48'];
block(bx[0],1873,bw,176,[[w0,ww,ww,ww,ww],[w0,ww,ww,ww,ww]]);
block(bx[0],2066,bw,175,[['N',['#5a4a30','#b06a50',1],ww,ww,ww],[w0,ww,ww,ww,ww]]);
block(bx[1],1873,bw,176,[[m0,mm,mm,mm,mm],[m0,mm,mm,mm,mm]]);
block(bx[1],2066,bw,175,[['N',['#a09890','#a06a50',1],mm,mm,mm],[m0,mm,mm,mm,mm]]);
block(bx[2],1873,bw,176,[[n0,nn,nn,nn,nn],[n0,nn,nn,nn,nn]]);
block(bx[2],2066,bw,175,[['N',['#e0dcd6','#8a5a40',1],nn,nn,nn],[n0,nn,nn,nn,nn]]);

document.getElementById('dyn').innerHTML='<g font-family="Liberation Sans" fill="#111">'+out+'</g>';
</script>
</body></html>
